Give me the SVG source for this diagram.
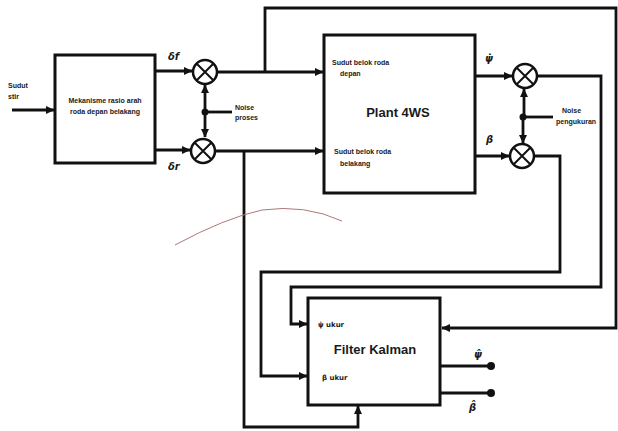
<svg xmlns="http://www.w3.org/2000/svg" width="618" height="431" viewBox="0 0 618 431">
<defs>
<marker id="arr" markerUnits="userSpaceOnUse" markerWidth="9" markerHeight="9" refX="8" refY="4.5" orient="auto"><path d="M0,0.5 L8.5,4.5 L0,8.5 z" fill="#111"/></marker>
<marker id="dot" markerUnits="userSpaceOnUse" markerWidth="10" markerHeight="10" refX="5" refY="5" orient="auto"><circle cx="5" cy="5" r="4" fill="#111"/></marker>
<style>
.ln{fill:none;stroke:#111;stroke-width:2.8;stroke-linejoin:miter}
.box{fill:#fff;stroke:#111;stroke-width:3}
.sum{fill:#fff;stroke:#111;stroke-width:2.5}
.x{stroke:#111;stroke-width:2}
.t{font-family:"Liberation Sans",Arial,sans-serif;fill:#1a1a1a}
.s{font-size:7px;font-weight:bold}
.g{font-family:"DejaVu Sans",sans-serif}
.big{font-size:13px;font-weight:bold}
.lab{font-family:"DejaVu Sans",sans-serif;font-size:10px;font-weight:bold;font-style:italic;fill:#1a1a1a}
</style>
</defs>
<rect width="618" height="431" fill="#fff"/>
<g id="connectors">
<path class="ln" d="M12,110 H54" marker-end="url(#arr)"/>
<path class="ln" d="M155,71 H192" marker-end="url(#arr)"/>
<path class="ln" d="M155,150 H190" marker-end="url(#arr)"/>
<path class="ln" d="M232,112 H205"/>
<path class="ln" d="M205,112 V85" marker-end="url(#arr)"/>
<path class="ln" d="M205,112 V137" marker-end="url(#arr)"/>
<circle cx="205" cy="112" r="3.5" fill="#111"/>
<path class="ln" d="M217,72 H323" marker-end="url(#arr)"/>
<path class="ln" d="M215,151 H323" marker-end="url(#arr)"/>
<path class="ln" d="M265,72 V8 H616 V328 H442" marker-end="url(#arr)"/>
<path class="ln" d="M244,151 V427 H358 V406" marker-end="url(#arr)"/>
<path class="ln" d="M475,76 H512" marker-end="url(#arr)"/>
<path class="ln" d="M475,156 H509" marker-end="url(#arr)"/>
<path class="ln" d="M553,117 H523"/>
<path class="ln" d="M524,117 V89" marker-end="url(#arr)"/>
<path class="ln" d="M523,117 V143" marker-end="url(#arr)"/>
<circle cx="523" cy="117" r="3.5" fill="#111"/>
<path class="ln" d="M537,76 H601 V287 H291 V324 H307" marker-end="url(#arr)"/>
<path class="ln" d="M534,156 H560 V272 H261 V376 H307" marker-end="url(#arr)"/>
<path class="ln" d="M440,366 H491" marker-end="url(#dot)"/>
<path class="ln" d="M440,393 H491" marker-end="url(#dot)"/>
</g>
<g id="input-label">
<text class="t s" x="8" y="88">Sudut</text>
<text class="t s" x="8" y="99">stir</text>
</g>
<g id="mekanisme">
<rect class="box" x="55" y="55" width="100" height="108"/>
<text class="t s" x="105" y="103" text-anchor="middle">Mekanisme rasio arah</text>
<text class="t s" x="105" y="114" text-anchor="middle">roda depan belakang</text>
</g>
<g id="labels-delta">
<text class="lab" x="168" y="60">δf</text>
<text class="lab" x="168" y="170">δr</text>
</g>
<g id="sum1">
<circle class="sum" cx="205" cy="72" r="12"/>
<path class="x" d="M196.5,63.5 L213.5,80.5 M213.5,63.5 L196.5,80.5"/>
</g>
<g id="sum2">
<circle class="sum" cx="203" cy="151" r="12"/>
<path class="x" d="M194.5,142.5 L211.5,159.5 M211.5,142.5 L194.5,159.5"/>
</g>
<g id="noise-proses">
<text class="t s" x="235" y="110">Noise</text>
<text class="t s" x="235" y="120">proses</text>
</g>
<g id="plant">
<rect class="box" x="324" y="35" width="151" height="158"/>
<text class="t s" x="332" y="65">Sudut belok roda</text>
<text class="t s" x="340" y="76">depan</text>
<text class="t big" x="398" y="117" text-anchor="middle">Plant 4WS</text>
<text class="t s" x="334" y="154">Sudut belok roda</text>
<text class="t s" x="340" y="166">belakang</text>
</g>
<g id="out-labels">
<text class="lab" x="485" y="62">ψ̇</text>
<text class="lab" x="486" y="143">β</text>
</g>
<g id="sum3">
<circle class="sum" cx="525" cy="76" r="12"/>
<path class="x" d="M516.5,67.5 L533.5,84.5 M533.5,67.5 L516.5,84.5"/>
</g>
<g id="sum4">
<circle class="sum" cx="522" cy="156" r="12"/>
<path class="x" d="M513.5,147.5 L530.5,164.5 M530.5,147.5 L513.5,164.5"/>
</g>
<g id="noise-pengukuran">
<text class="t s" x="562" y="113">Noise</text>
<text class="t s" x="556" y="124">pengukuran</text>
</g>
<g id="kalman">
<rect class="box" x="308" y="298" width="132" height="107"/>
<text class="t s g" x="318" y="327">ψ̇ ukur</text>
<text class="t big" x="375" y="354" text-anchor="middle">Filter Kalman</text>
<text class="t s g" x="322" y="380">β ukur</text>
</g>
<g id="kalman-out-labels">
<text class="lab" x="474" y="358">ψ̂</text>
<text class="lab" x="469" y="411">β̂</text>
</g>
<path d="M175,245 Q225,218 262,210 Q305,204 342,221" fill="none" stroke="#b07878" stroke-width="1"/>
</svg>
